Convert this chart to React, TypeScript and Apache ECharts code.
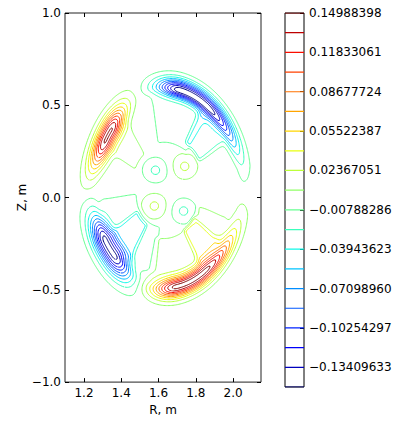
import React, { useEffect, useRef } from "react";
import * as echarts from "echarts";

// ---------- data ----------
const LEVELS = [
  0.14988398, 0.1341073, 0.11833061, 0.10255393, 0.08677724, 0.07100056,
  0.05522387, 0.03944719, 0.02367051, 0.00789382, -0.00788286, -0.02365955,
  -0.03943623, -0.05521292, -0.0709896, -0.08676629, -0.10254297, -0.11831966,
  -0.13409633, -0.14987302,
];
const COLORBAR_LABELS = [
  "0.14988398", "0.11833061", "0.08677724", "0.05522387", "0.02367051",
  "\u22120.00788286", "\u22120.03943623", "\u22120.07098960", "\u22120.10254297", "\u22120.13409633",
];
const X_TICKS = [1.2, 1.4, 1.6, 1.8, 2.0];
const Y_TICKS = [-1.0, -0.5, 0.0, 0.5, 1.0];

// plasma cross-section (normalised polar frame)
const SHAPE_CENTER = [1.63, 0.045];
const SHAPE_SEMI_AXES = [0.45, 0.615];

// four boundary lobes: UL (+), UR (-), LL (-), LR (+)
const LOBE_AMP = [0.152, -0.162, -0.156, 0.156];
const LOBE_RHO = [0.82, 0.89, 0.83, 0.87];
const LOBE_RHO_BEND = [0.09, 0.03, 0.08, 0.035];
const LOBE_THETA_LO = [141, 56, 213, -80];
const LOBE_THETA_HI = [148, 77, 224, -57];
const LOBE_SIGMA_THETA_LO = [12, 22, 12, 13];
const LOBE_SIGMA_THETA_HI = [14, 13, 12.5, 21];
const LOBE_SIGMA_IN = [0.07, 0.05, 0.07, 0.06];
const LOBE_SIGMA_OUT = [0.078, 0.065, 0.095, 0.065];

// inward low-level wedges
const TAIL_LOBE = [0, 1, 1, 2, 2, 3, 3];
const TAIL_AMP = [0.013, -0.013, -0.03, -0.013, -0.03, 0.013, 0.03];
const TAIL_THETA_LO = [130, 54, 34, 190, 214, -100, -54];
const TAIL_THETA_HI = [150, 97, 55, 258, 234, -22, -38];
const TAIL_RHO_TIP = [0.35, 0.38, 0.45, 0.3, 0.34, 0.4, 0.4];

// interior islands
const ISLAND_R = [1.584, 1.74, 1.578, 1.734];
const ISLAND_Z = [0.148, 0.169, -0.046, -0.073];
const ISLAND_AMP = [-0.027, 0.027, 0.027, -0.027];
const ISLAND_SIGMA = [0.045, 0.045, 0.045, 0.045];

// ---------- helpers ----------
function wrap180(d: number) {
  while (d > 180) d -= 360;
  while (d < -180) d += 360;
  return d;
}
function outside(th: number, lo: number, hi: number) {
  const mid = (lo + hi) / 2;
  const half = (hi - lo) / 2;
  const dd = wrap180(th - mid);
  if (dd < -half) return dd + half;
  if (dd > half) return dd - half;
  return 0;
}
function smooth(t: number) {
  const u = Math.min(1, Math.max(0, t));
  return u * u * (3 - 2 * u);
}
function fieldAt(R: number, Z: number) {
  const dx = (R - SHAPE_CENTER[0]) / SHAPE_SEMI_AXES[0];
  const dz = (Z - SHAPE_CENTER[1]) / SHAPE_SEMI_AXES[1];
  const rho = Math.hypot(dx, dz);
  const th = (Math.atan2(dz, dx) * 180) / Math.PI;
  let s = 0;
  for (let k = 0; k < LOBE_AMP.length; k++) {
    const o = outside(th, LOBE_THETA_LO[k], LOBE_THETA_HI[k]);
    const sgt = o < 0 ? LOBE_SIGMA_THETA_LO[k] : LOBE_SIGMA_THETA_HI[k];
    const g = Math.exp(-(o * o) / (2 * sgt * sgt));
    const rc = LOBE_RHO[k] + LOBE_RHO_BEND[k] * Math.min(2.2, (o / 30) ** 2);
    const dr = rho - rc;
    const sg = dr < 0 ? LOBE_SIGMA_IN[k] : LOBE_SIGMA_OUT[k];
    s += LOBE_AMP[k] * g * Math.exp(-(dr * dr) / (2 * sg * sg));
  }
  for (let k = 0; k < TAIL_AMP.length; k++) {
    const o = outside(th, TAIL_THETA_LO[k], TAIL_THETA_HI[k]);
    const w = Math.exp(-(o * o) / (2 * 3 * 3));
    const end = LOBE_RHO[TAIL_LOBE[k]] - 0.12;
    const t = smooth((rho - TAIL_RHO_TIP[k]) / 0.06) * (1 - smooth((rho - end) / 0.1));
    s += TAIL_AMP[k] * w * t;
  }
  for (let k = 0; k < ISLAND_AMP.length; k++) {
    const r2 = (R - ISLAND_R[k]) ** 2 + (Z - ISLAND_Z[k]) ** 2;
    s += ISLAND_AMP[k] * Math.exp(-r2 / (2 * ISLAND_SIGMA[k] ** 2));
  }
  return s;
}

function jet(t: number) {
  const interp = (pts: number[][]) => {
    for (let i = 0; i < pts.length - 1; i++) {
      const [x0, y0] = pts[i];
      const [x1, y1] = pts[i + 1];
      if (t <= x1) return y0 + ((y1 - y0) * (t - x0)) / (x1 - x0);
    }
    return pts[pts.length - 1][1];
  };
  const r = interp([[0, 0], [0.35, 0], [0.66, 1], [0.89, 1], [1, 0.5]]);
  const g = interp([[0, 0], [0.125, 0], [0.375, 1], [0.64, 1], [0.91, 0], [1, 0]]);
  const b = interp([[0, 0.5], [0.11, 1], [0.34, 1], [0.65, 0], [1, 0]]);
  const c = (v: number) => Math.round(Math.max(0, Math.min(1, v)) * 255);
  return `rgb(${c(r)},${c(g)},${c(b)})`;
}

// marching squares with chaining
function contourLines(f: Float64Array, nx: number, ny: number, xs: number[], ys: number[], L: number) {
  const pts = new Map<number, [number, number]>();
  const adj = new Map<number, number[]>();
  const edgePoint = (id: number): [number, number] => {
    let p = pts.get(id);
    if (p) return p;
    const cellIdx = id >> 1;
    const i = cellIdx % nx;
    const j = (cellIdx - i) / nx;
    const v0 = f[j * nx + i];
    if ((id & 1) === 0) {
      const v1 = f[j * nx + i + 1];
      const t = (L - v0) / (v1 - v0);
      p = [xs[i] + t * (xs[i + 1] - xs[i]), ys[j]];
    } else {
      const v1 = f[(j + 1) * nx + i];
      const t = (L - v0) / (v1 - v0);
      p = [xs[i], ys[j] + t * (ys[j + 1] - ys[j])];
    }
    pts.set(id, p);
    return p;
  };
  const link = (a: number, b: number) => {
    let la = adj.get(a);
    if (!la) adj.set(a, (la = []));
    la.push(b);
    let lb = adj.get(b);
    if (!lb) adj.set(b, (lb = []));
    lb.push(a);
  };
  for (let j = 0; j < ny - 1; j++) {
    for (let i = 0; i < nx - 1; i++) {
      const a = f[j * nx + i];
      const b = f[j * nx + i + 1];
      const c = f[(j + 1) * nx + i + 1];
      const d = f[(j + 1) * nx + i];
      const code = (a > L ? 1 : 0) | (b > L ? 2 : 0) | (c > L ? 4 : 0) | (d > L ? 8 : 0);
      if (code === 0 || code === 15) continue;
      const E = [
        (j * nx + i) * 2,
        (j * nx + i + 1) * 2 + 1,
        ((j + 1) * nx + i) * 2,
        (j * nx + i) * 2 + 1,
      ];
      const center = (a + b + c + d) / 4;
      const segs: number[][] = [];
      switch (code) {
        case 1: case 14: segs.push([3, 0]); break;
        case 2: case 13: segs.push([0, 1]); break;
        case 3: case 12: segs.push([3, 1]); break;
        case 4: case 11: segs.push([1, 2]); break;
        case 6: case 9: segs.push([0, 2]); break;
        case 7: case 8: segs.push([3, 2]); break;
        case 5:
          if (center > L) segs.push([0, 1], [2, 3]);
          else segs.push([3, 0], [1, 2]);
          break;
        case 10:
          if (center > L) segs.push([3, 0], [1, 2]);
          else segs.push([0, 1], [2, 3]);
          break;
      }
      for (const [e1, e2] of segs) link(E[e1], E[e2]);
    }
  }
  const visited = new Set<string>();
  const lines: [number, number][][] = [];
  const walk = (start: number) => {
    const line: [number, number][] = [edgePoint(start)];
    let cur = start;
    for (;;) {
      const nb = adj.get(cur) || [];
      let next = -1;
      for (const n of nb) {
        const key = cur < n ? cur + "_" + n : n + "_" + cur;
        if (!visited.has(key)) {
          visited.add(key);
          next = n;
          break;
        }
      }
      if (next < 0) break;
      line.push(edgePoint(next));
      cur = next;
      if (cur === start) break;
    }
    return line;
  };
  for (const [id, nb] of adj) {
    if (nb.length === 1) {
      const l = walk(id);
      if (l.length > 1) lines.push(l);
    }
  }
  for (const [id] of adj) {
    const l = walk(id);
    if (l.length > 1) lines.push(l);
  }
  return lines;
}

const FONT = "DejaVu Sans";
const X_MIN = 1.098;
const X_MAX = 2.15;

export default function App() {
  const ref = useRef<HTMLDivElement>(null);
  useEffect(() => {
    if (!ref.current) return;
    const chart = echarts.init(ref.current, undefined, { renderer: "svg" });

    const step = 0.0035;
    const xs: number[] = [];
    const ys: number[] = [];
    for (let x = 1.1; x <= 2.15; x += step) xs.push(x);
    for (let y = -0.75; y <= 0.8; y += step) ys.push(y);
    const nx = xs.length;
    const ny = ys.length;
    const f = new Float64Array(nx * ny);
    for (let j = 0; j < ny; j++) for (let i = 0; i < nx; i++) f[j * nx + i] = fieldAt(xs[i], ys[j]);

    const lmin = Math.min(...LEVELS);
    const lmax = Math.max(...LEVELS);
    const series: any[] = [];
    LEVELS.forEach((L) => {
      const col = jet((L - lmin) / (lmax - lmin));
      const lines = contourLines(f, nx, ny, xs, ys, L);
      const data: any[] = [];
      lines.forEach((ln) => {
        ln.forEach((p) => data.push([p[0], p[1]]));
        data.push(["-", "-"]);
      });
      series.push({
        type: "line",
        xAxisIndex: 0,
        yAxisIndex: 0,
        data,
        showSymbol: false,
        symbol: "none",
        connectNulls: false,
        silent: true,
        lineStyle: { color: col, width: 1 },
        clip: true,
        z: 2,
      });
      series.push({
        type: "line",
        xAxisIndex: 2,
        yAxisIndex: 2,
        data: [[0, L], [1, L]],
        symbol: "none",
        silent: true,
        lineStyle: { color: col, width: 1.2 },
      });
    });

    const cbValues = COLORBAR_LABELS.map((s) => parseFloat(s.replace("\u2212", "-")));
    const cbFormatter = (v: number) => {
      let best = 0;
      cbValues.forEach((c, i) => {
        if (Math.abs(c - v) < Math.abs(cbValues[best] - v)) best = i;
      });
      return COLORBAR_LABELS[best];
    };
    const yFmt = (v: number) => v.toFixed(1).replace("-", "\u2212");
    const tickStyle = { inside: true, length: 4, lineStyle: { color: "#000", width: 1 } };
    const common = {
      type: "value",
      splitLine: { show: false },
      axisLine: { show: false, onZero: false },
    };

    chart.setOption({
      animation: false,
      backgroundColor: "#fff",
      textStyle: { fontFamily: FONT },
      grid: [
        { left: 65, top: 13, width: 196, height: 372, show: true, borderColor: "#222", borderWidth: 1, backgroundColor: "transparent" },
        { left: 285, top: 13, width: 19, height: 374, show: true, borderColor: "#000", borderWidth: 1, backgroundColor: "transparent" },
      ],
      xAxis: [
        {
          ...common, gridIndex: 0, min: X_MIN, max: X_MAX, position: "bottom",
          axisTick: { ...tickStyle, customValues: X_TICKS },
          axisLabel: { customValues: X_TICKS, formatter: (v: number) => v.toFixed(1), color: "#000", fontSize: 12, fontFamily: FONT, margin: 5 },
          name: "R, m", nameLocation: "middle", nameGap: 20,
          nameTextStyle: { color: "#000", fontSize: 12, fontFamily: FONT },
        },
        {
          ...common, gridIndex: 0, min: X_MIN, max: X_MAX, position: "top",
          axisTick: { ...tickStyle, customValues: X_TICKS },
          axisLabel: { show: false },
        },
        { ...common, gridIndex: 1, min: 0, max: 1, show: false },
      ],
      yAxis: [
        {
          ...common, gridIndex: 0, min: -1, max: 1, position: "left",
          axisTick: { ...tickStyle, customValues: Y_TICKS },
          axisLabel: { customValues: Y_TICKS, formatter: yFmt, color: "#000", fontSize: 12, fontFamily: FONT, margin: 4 },
          name: "Z, m", nameLocation: "middle", nameGap: 36, nameRotate: 90,
          nameTextStyle: { color: "#000", fontSize: 12, fontFamily: FONT },
        },
        {
          ...common, gridIndex: 0, min: -1, max: 1, position: "right",
          axisTick: { ...tickStyle, customValues: Y_TICKS },
          axisLabel: { show: false },
        },
        {
          ...common, gridIndex: 1, min: LEVELS[LEVELS.length - 1], max: LEVELS[0], position: "right",
          axisTick: { ...tickStyle, length: 4, customValues: cbValues },
          axisLabel: { customValues: cbValues, formatter: cbFormatter, color: "#000", fontSize: 12, fontFamily: FONT, margin: 5 },
        },
      ],
      series,
    });
    return () => chart.dispose();
  }, []);
  return <div ref={ref} style={{ position: "fixed", left: 0, top: 0, width: 400, height: 421 }} />;
}
